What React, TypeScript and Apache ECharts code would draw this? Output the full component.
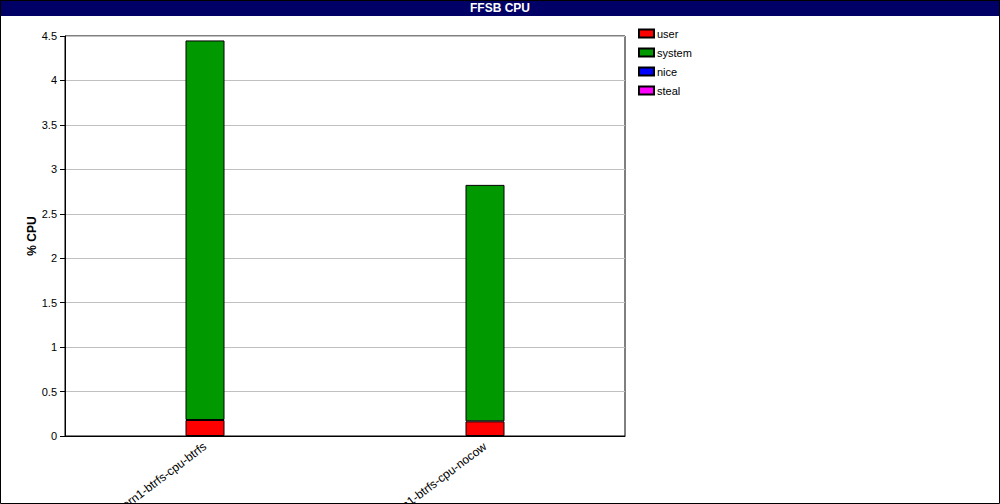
import React, { useEffect, useRef } from "react";
import * as echarts from "echarts";

const categories = ["kern1-btrfs-cpu-btrfs", "kern1-btrfs-cpu-nocow"];
const userValues = [0.18, 0.165];
const systemValues = [4.27, 2.66];
const niceValues = [0, 0];
const stealValues = [0, 0];

const FONT = "'Liberation Sans', Arial, sans-serif";

export default function App() {
  const ref = useRef<HTMLDivElement>(null);
  useEffect(() => {
    document.body.style.margin = "0";
    const chart = echarts.init(ref.current!, null, { renderer: "svg" });
    const mk = (name: string, data: number[], color: string) => ({
      name,
      type: "bar",
      stack: "cpu",
      data: data.map((v) => (v === 0 ? null : v)),
      barWidth: 39,
      itemStyle: { color, borderColor: "#000", borderWidth: 1 },
      emphasis: { disabled: true },
    });
    chart.setOption({
      animation: false,
      textStyle: { fontFamily: FONT },
      graphic: [
        {
          type: "rect",
          shape: { x: 0, y: 0, width: 1000, height: 16 },
          style: { fill: "#000066" },
          z: 0,
        },
        {
          type: "text",
          x: 500,
          y: 8,
          style: {
            text: "FFSB CPU",
            fill: "#fff",
            font: `bold 12px ${FONT}`,
            textAlign: "center",
            textVerticalAlign: "middle",
          },
          z: 1,
        },
        {
          type: "rect",
          shape: { x: 0.5, y: 0.5, width: 999, height: 503 },
          style: { fill: "none", stroke: "#000", lineWidth: 1 },
          z: 2,
        },
      ],
      legend: {
        orient: "vertical",
        left: 638,
        top: 28,
        padding: 0,
        itemWidth: 15,
        itemHeight: 8,
        itemGap: 8,
        icon: "rect",
        textStyle: { fontSize: 11, color: "#000", fontFamily: FONT, padding: [0, 0, 0, -2] },
        data: ["user", "system", "nice", "steal"],
        selectedMode: false,
      },
      grid: {
        left: 65,
        right: 375,
        top: 36,
        bottom: 68,
        outerBoundsMode: "none",
        containLabel: false,
        show: true,
        borderColor: "#000",
        borderWidth: 1,
        backgroundColor: "transparent",
      },
      xAxis: {
        type: "category",
        data: categories,
        axisLine: { lineStyle: { color: "#000" } },
        axisTick: { alignWithLabel: true, length: 5, lineStyle: { color: "#000" } },
        axisLabel: {
          interval: 0,
          rotate: 37,
          fontSize: 12,
          color: "#000",
          margin: 9,
          fontFamily: FONT,
        },
      },
      yAxis: {
        type: "value",
        min: 0,
        max: 4.5,
        interval: 0.5,
        name: "% CPU",
        nameLocation: "middle",
        nameRotate: 90,
        nameGap: 27,
        nameMoveOverlap: false,
        nameTextStyle: { fontSize: 12, fontWeight: "bold", color: "#000", fontFamily: FONT },
        axisLine: { show: true, lineStyle: { color: "#000" } },
        axisTick: { show: true, length: 5, lineStyle: { color: "#000" } },
        axisLabel: { fontSize: 11, color: "#000", margin: 8, fontFamily: FONT },
        splitLine: { lineStyle: { color: "#c0c0c0" } },
      },
      series: [
        mk("user", userValues, "#ff0000"),
        mk("system", systemValues, "#009900"),
        mk("nice", niceValues, "#0000ff"),
        mk("steal", stealValues, "#ff00ff"),
      ],
    });
    return () => chart.dispose();
  }, []);
  return <div ref={ref} style={{ width: 1000, height: 504, background: "#fff" }} />;
}
